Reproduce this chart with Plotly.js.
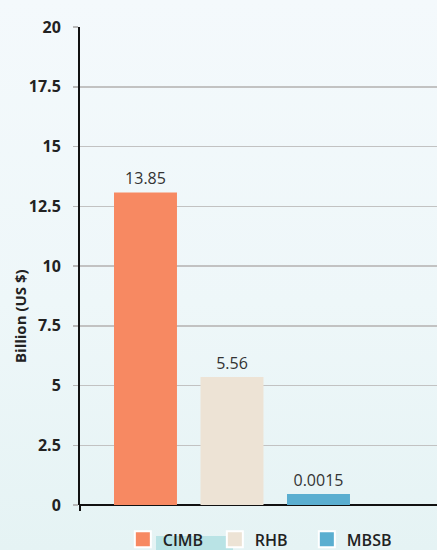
<!DOCTYPE html>
<html>
<head>
<meta charset="utf-8">
<script src="https://cdn.plot.ly/plotly-3.0.1.min.js"></script>
<style>
  html, body { margin: 0; padding: 0; }
  body { width: 437px; height: 550px; background: linear-gradient(to bottom, #f4f9fc 0%, #eef7f9 55%, #e5f3f4 100%); overflow: hidden; }
  #chart { width: 437px; height: 550px; }
</style>
</head>
<body>
<div id="chart"></div>
<script>
// Data
const categories = ["CIMB", "RHB", "MBSB"];
const barHeights = [13.08, 5.36, 0.46];
const valueLabels = ["13.85", "5.56", "0.0015"];
const barColors = ["#f78962", "#ede3d5", "#5aaed0"];
const yTicks = [0, 2.5, 5, 7.5, 10, 12.5, 15, 17.5, 20];
const yTickLabels = ["0", "2.5", "5", "7.5", "10", "12.5", "15", "17.5", "20"];
const yTitle = "Billion (US $)";

const FONT = "Open Sans, Lato, sans-serif";

const traces = [{
  type: "bar",
  x: categories,
  y: barHeights,
  text: valueLabels,
  textposition: "outside",
  cliponaxis: false,
  textfont: { family: FONT, size: 16, color: "#333333" },
  marker: { color: barColors },
  width: 0.728,
  showlegend: false,
  hoverinfo: "skip"
}];

categories.forEach((c, i) => {
  traces.push({
    type: "scatter",
    mode: "markers",
    x: [null], y: [null],
    name: c,
    marker: { symbol: "square", size: 16, color: barColors[i], line: { color: "#ffffff", width: 2 } },
    showlegend: true,
    hoverinfo: "skip"
  });
});

const layout = {
  width: 437, height: 550,
  margin: { l: 80, r: 0, t: 27, b: 45, autoexpand: false },
  paper_bgcolor: "rgba(0,0,0,0)",
  plot_bgcolor: "rgba(0,0,0,0)",
  font: { family: FONT, color: "#222222" },
  showlegend: true,
  legend: {
    orientation: "h",
    x: 0.12, xanchor: "left",
    y: -0.072, yanchor: "middle",
    font: { family: FONT, size: 16, color: "#222222", weight: 600 },
    bgcolor: "rgba(0,0,0,0)",
    entrywidth: 47,
    entrywidthmode: "pixels",
    itemclick: false
  },
  xaxis: {
    type: "category",
    range: [-0.757, 3.37],
    showticklabels: false,
    showgrid: false,
    zeroline: false,
    showline: false,
    ticks: "",
    fixedrange: true
  },
  yaxis: {
    range: [0, 20],
    tickvals: yTicks,
    ticktext: yTickLabels,
    tickfont: { family: FONT, size: 16, color: "#222222", weight: "bold" },
    ticks: "outside",
    ticklen: 5,
    tickwidth: 1.5,
    tickcolor: "#b8b8b8",
    ticklabelstandoff: 9,
    showgrid: true,
    gridcolor: "#c2c2c2",
    gridwidth: 1.5,
    zeroline: true,
    zerolinecolor: "#111111",
    zerolinewidth: 2,
    showline: true,
    linecolor: "#111111",
    linewidth: 2,
    fixedrange: true
  },
  annotations: [{
    text: yTitle,
    xref: "paper", yref: "paper",
    x: -0.168, xanchor: "center",
    y: (505 - 316) / 478, yanchor: "middle",
    textangle: -90,
    showarrow: false,
    font: { family: FONT, size: 15, color: "#222222", weight: "bold" }
  }],
  shapes: [{
    type: "rect",
    xref: "paper", yref: "paper",
    x0: (156 - 80) / 357, x1: (233 - 80) / 357,
    y0: (505 - 536) / 478, y1: (505 - 552) / 478,
    fillcolor: "#b9e3e5",
    line: { width: 0 },
    layer: "below"
  }, {
    type: "line",
    xref: "paper", yref: "paper",
    x0: 0, x1: 0,
    y0: 0, y1: -6 / 478,
    line: { color: "#111111", width: 2 }
  }]
};

Plotly.newPlot("chart", traces, layout, { displayModeBar: false, staticPlot: true });
</script>
</body>
</html>
